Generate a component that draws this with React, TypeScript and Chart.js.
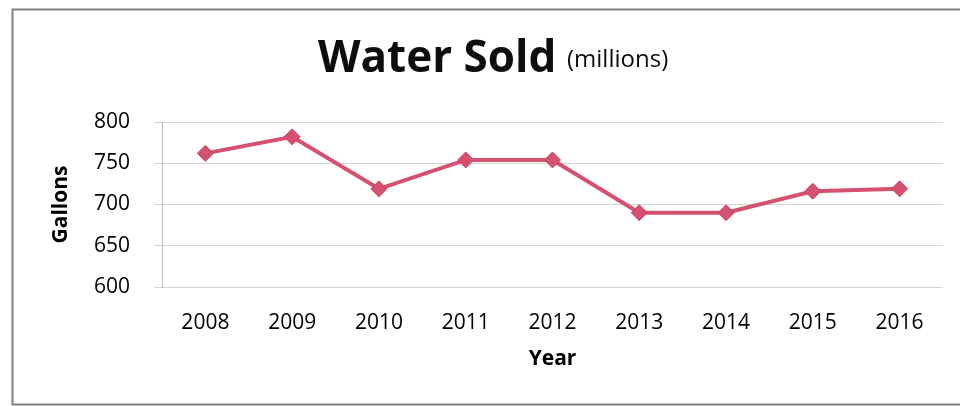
import React, { useEffect, useRef } from "react";
import { Chart, registerables } from "chart.js";

Chart.register(...registerables);

const years: string[] = ["2008", "2009", "2010", "2011", "2012", "2013", "2014", "2015", "2016"];
const gallons: number[] = [762, 782, 719, 754, 754, 690, 690, 716, 719];
const titleMain = "Water Sold";
const titleSub = "(millions)";
const yAxisTitle = "Gallons";
const xAxisTitle = "Year";

const FONT = "'Open Sans', 'Liberation Sans', sans-serif";

const framePlugin = {
  id: "frameAndTitle",
  afterDraw(chart: any) {
    const ctx = chart.ctx;
    ctx.save();
    // outer frame
    ctx.strokeStyle = "#7f7f7f";
    ctx.lineWidth = 2;
    ctx.beginPath();
    ctx.moveTo(970, 9.5);
    ctx.lineTo(12.5, 9.5);
    ctx.lineTo(12.5, 404.5);
    ctx.lineTo(970, 404.5);
    ctx.stroke();
    // title
    ctx.fillStyle = "#0d0d0d";
    ctx.textBaseline = "alphabetic";
    ctx.textAlign = "left";
    ctx.font = `bold 44px ${FONT}`;
    ctx.fillText(titleMain, 318, 72);
    ctx.font = `24px ${FONT}`;
    ctx.fillText(titleSub, 567, 67);
    ctx.restore();
  },
};

export default function App() {
  const canvasRef = useRef<HTMLCanvasElement | null>(null);

  useEffect(() => {
    if (!canvasRef.current) return;
    const chart = new Chart(canvasRef.current, {
      type: "line",
      data: {
        labels: years,
        datasets: [
          {
            data: gallons,
            borderColor: "#d6506f",
            backgroundColor: "#d6506f",
            borderWidth: 4,
            pointStyle: "rectRot",
            pointRadius: 8,
            pointBorderWidth: 1,
            pointBackgroundColor: "#d6506f",
            pointBorderColor: "#c84463",
            tension: 0,
          },
        ],
      },
      options: {
        animation: false,
        responsive: true,
        maintainAspectRatio: false,
        layout: { padding: { top: 122, right: 17, bottom: 19, left: 0 } },
        plugins: {
          legend: { display: false },
          title: { display: false },
          tooltip: { enabled: false },
        },
        scales: {
          x: {
            type: "category",
            offset: true,
            grid: { display: false },
            border: { display: false },
            ticks: {
              color: "#000000",
              padding: 15,
              maxRotation: 0,
              font: { family: FONT, size: 21 },
            },
            title: {
              display: true,
              text: xAxisTitle,
              color: "#000000",
              font: { family: FONT, size: 21, weight: "bold" },
              padding: { top: 0, bottom: 15 },
            },
            afterFit(scale: any) {
              scale.height = 100;
            },
          },
          y: {
            min: 600,
            max: 800,
            ticks: {
              stepSize: 50,
              color: "#000000",
              padding: 24,
              font: { family: FONT, size: 21 },
            },
            grid: {
              color: "#d6d6d6",
              lineWidth: 1,
              drawTicks: true,
              tickLength: 8,
            },
            border: { display: true, color: "#bdbdbd", width: 1 },
            title: {
              display: true,
              text: yAxisTitle,
              color: "#000000",
              font: { family: FONT, size: 21, weight: "bold" },
              padding: { top: 48, bottom: 0 },
            },
            afterFit(scale: any) {
              scale.width = 162;
            },
          },
        },
      },
      plugins: [framePlugin],
    });
    return () => chart.destroy();
  }, []);

  return (
    <div style={{ position: "absolute", left: 0, top: 0, width: 960, height: 406, background: "#ffffff" }}>
      <canvas ref={canvasRef} />
    </div>
  );
}
